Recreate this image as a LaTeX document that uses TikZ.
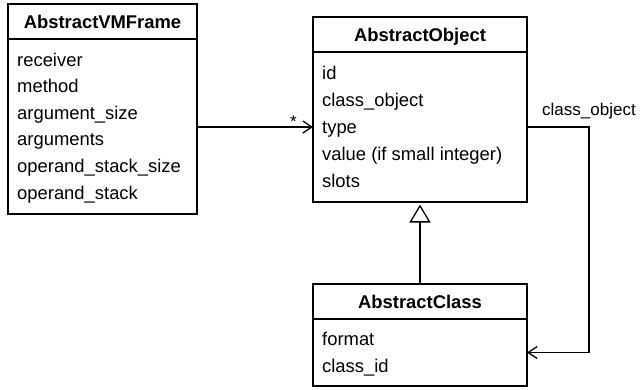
\documentclass[tikz,border=0pt]{standalone}
\usepackage{fontspec}
\setmainfont{Liberation Sans}
\usetikzlibrary{arrows.meta}
\tikzset{
  box/.style={draw, rectangle, line width=2.4pt, inner sep=0pt, outer sep=0pt},
  attr/.style={inner sep=0pt, anchor=base west, font=\fontsize{18.4}{22}\selectfont},
  title/.style={inner sep=0pt, anchor=base, font=\fontsize{18.4}{22}\selectfont\bfseries},
  lbl/.style={inner sep=0pt, anchor=base west, font=\fontsize{17}{20}\selectfont},
  conn/.style={line width=1.3pt},
}
\begin{document}
\begin{tikzpicture}[x=1pt,y=-1pt]
\useasboundingbox (0,0) rectangle (640,389);
% AbstractVMFrame
\node[box, minimum width=189pt, minimum height=35pt] (vmh) at (102.5,21.5) {};
\node[box, minimum width=189pt, minimum height=175pt] (vmb) at (102.5,126.5) {};
\node[title] (vmt) at (102.5,28) {AbstractVMFrame};
\node[attr] (vm1) at (17,66) {receiver};
\node[attr] (vm2) at (17,92.6) {method};
\node[attr] (vm3) at (17,119.2) {argument\_size};
\node[attr] (vm4) at (17,145.8) {arguments};
\node[attr] (vm5) at (17,172.4) {operand\_stack\_size};
\node[attr] (vm6) at (17,199) {operand\_stack};
% AbstractObject
\node[box, minimum width=214pt, minimum height=35pt] (aoh) at (420,34.5) {};
\node[box, minimum width=214pt, minimum height=150pt] (aob) at (420,127) {};
\node[title] (aot) at (420,41) {AbstractObject};
\node[attr] (ao1) at (322,79) {id};
\node[attr] (ao2) at (322,106) {class\_object};
\node[attr] (ao3) at (322,133) {type};
\node[attr] (ao4) at (322,160) {value (if small integer)};
\node[attr] (ao5) at (322,187) {slots};
% AbstractClass
\node[box, minimum width=214pt, minimum height=35pt] (ach) at (420,301.5) {};
\node[box, minimum width=214pt, minimum height=67pt] (acb) at (420,352.5) {};
\node[title] (act) at (420,308) {AbstractClass};
\node[attr] (ac1) at (322,345.5) {format};
\node[attr] (ac2) at (322,372.5) {class\_id};
% connectors
\draw[conn, -{Straight Barb[length=9pt,width=12pt,line width=1.3pt]}] (vmb.east |- aob.west) -- (aob.west);
\node[lbl] (star) at (290,127) {*};
\draw[conn, -{Straight Barb[length=9pt,width=12pt,line width=1.3pt]}] (aob.east) -- ++(62,0) coordinate (c1) |- (acb.east);
\node[lbl] (colbl) at (542,115) {class\_object};
\draw[conn, -{Triangle[open,length=18pt,width=21pt,line width=1.3pt,fill=white]}, shorten >=2.5pt] (ach.north) -- (aob.south);
\end{tikzpicture}
\end{document}
